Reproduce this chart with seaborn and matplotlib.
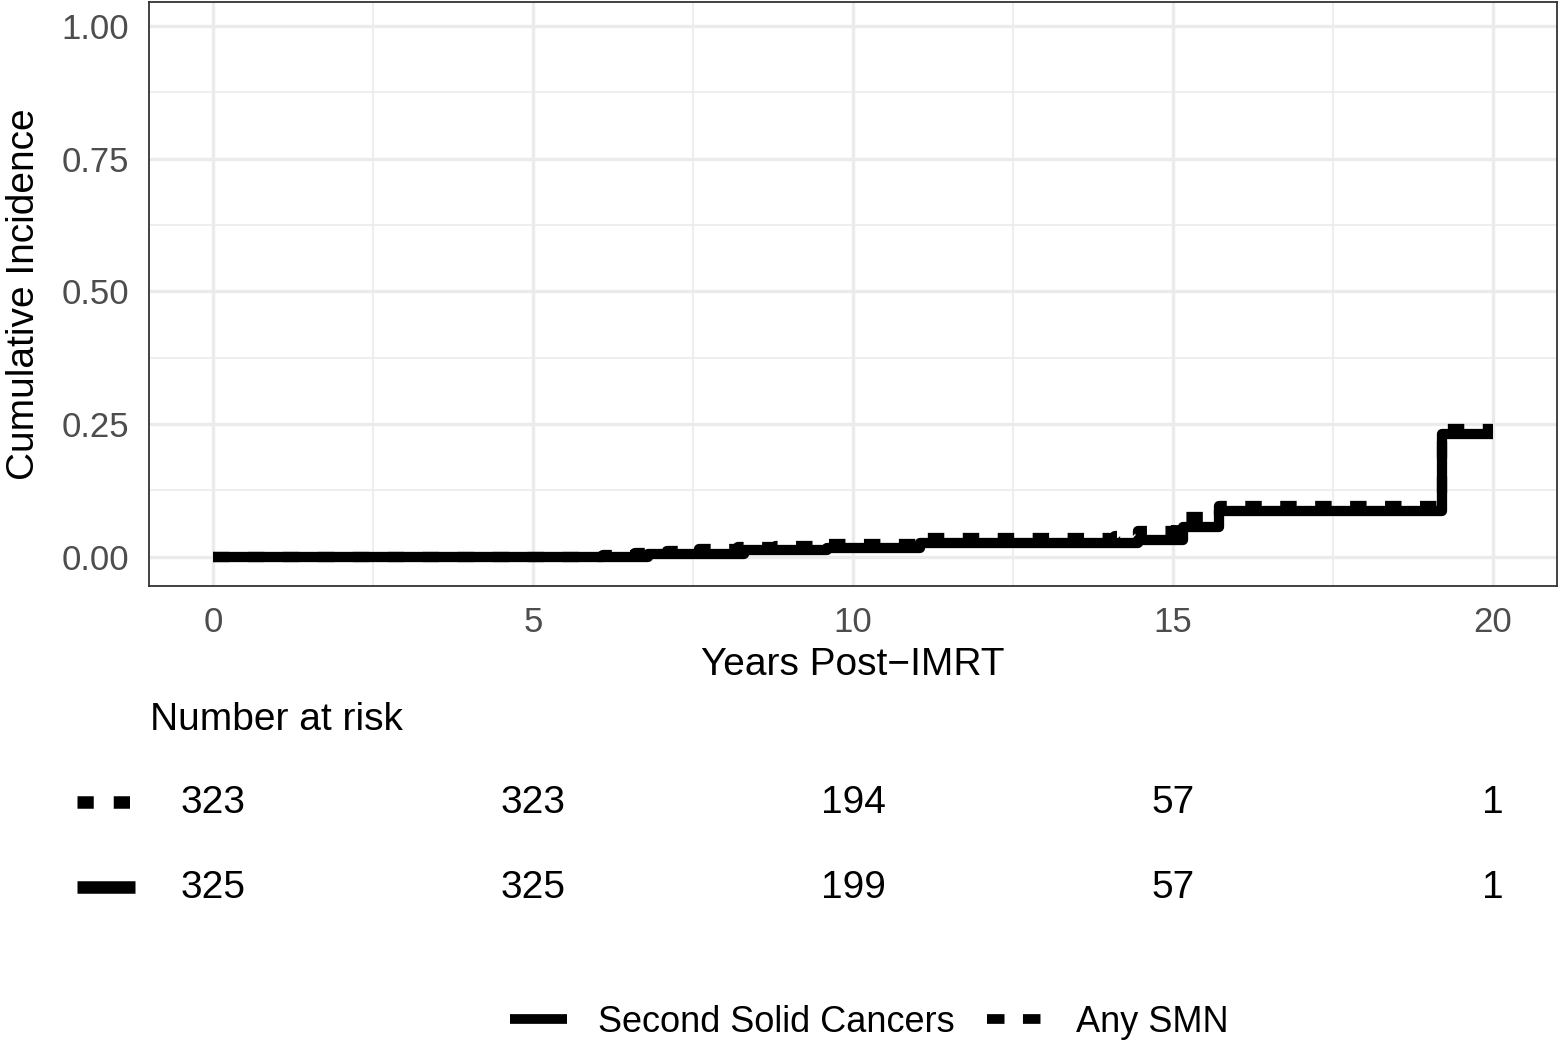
import seaborn as sns
import matplotlib.pyplot as plt
import pandas as pd
from matplotlib.lines import Line2D
from matplotlib.ticker import MultipleLocator, FormatStrFormatter
from matplotlib.transforms import blended_transform_factory

# curvas de incidência acumulada
ssc_anos = [0, 6.8, 8.3, 9.6, 11.05, 14.45, 15.15, 15.72, 19.2, 20.0]
ssc_inc = [0, 0.006, 0.012, 0.017, 0.026, 0.031, 0.056, 0.087, 0.232, 0.232]
smn_anos = [0, 6.1, 6.6, 7.1, 7.6, 8.2, 8.8, 9.5, 11.0, 14.1, 14.45, 15.05, 15.2, 15.72, 19.2, 20.0]
smn_inc = [0, 0.003, 0.007, 0.010, 0.014, 0.018, 0.021, 0.025, 0.036, 0.040, 0.048, 0.063, 0.075, 0.096, 0.241, 0.241]

# número em risco
risco_anos = [0, 5, 10, 15, 20]
risco_smn = [323, 323, 194, 57, 1]
risco_ssc = [325, 325, 199, 57, 1]

grupos = ["Second Solid Cancers", "Any SMN"]

dados = pd.concat([
    pd.DataFrame({"anos": ssc_anos, "inc": ssc_inc, "grupo": grupos[0]}),
    pd.DataFrame({"anos": smn_anos, "inc": smn_inc, "grupo": grupos[1]}),
], ignore_index=True)

sns.set_theme(style="white")
plt.rcParams['font.family'] = ['Liberation Sans', 'DejaVu Sans']
plt.rcParams['text.color'] = 'black'

LW = 7.4
TRACO = (1.6, 1.8)

fig = plt.figure(figsize=(15.59, 10.43), dpi=100)
W, H = 1559, 1043
ax = fig.add_axes([149 / W, 1 - 586 / H, (1557 - 149) / W, (586 - 2) / H])

sns.lineplot(data=dados, x="anos", y="inc", style="grupo", style_order=grupos,
             dashes={grupos[0]: "", grupos[1]: TRACO}, color="black",
             drawstyle="steps-post", estimator=None, errorbar=None,
             linewidth=LW, legend=False, ax=ax, sort=True)
for ln in ax.lines:
    ln.set_solid_capstyle("butt")
    ln.set_dash_capstyle("butt")

ax.set_xlim(-1, 21)
ax.set_ylim(-0.055, 1.045)
ax.xaxis.set_major_locator(MultipleLocator(5))
ax.xaxis.set_minor_locator(MultipleLocator(2.5))
ax.yaxis.set_major_locator(MultipleLocator(0.25))
ax.yaxis.set_minor_locator(MultipleLocator(0.125))
ax.yaxis.set_major_formatter(FormatStrFormatter("%.2f"))
ax.grid(True, which="major", color="#EBEBEB", linewidth=2.4)
ax.grid(True, which="minor", color="#EBEBEB", linewidth=1.2)
ax.set_axisbelow(True)
for s in ax.spines.values():
    s.set_color("#333333")
    s.set_linewidth(1.3)
ax.tick_params(which="major", length=8.5, width=2.2, color="#333333",
               labelsize=25, labelcolor="#4D4D4D", pad=6)
ax.tick_params(which="minor", length=0)
ax.set_xlabel("Years Post\u2212IMRT", fontsize=28, color="black", labelpad=6)
ax.set_ylabel("Cumulative Incidence", fontsize=28, color="black", labelpad=14)

# tabela de número em risco
tr = blended_transform_factory(ax.transData, fig.transFigure)
fig.text(150 / W, 1 - 720 / H, "Number at risk", fontsize=28, ha="left", va="center",
         color="black")
for yy, vals in [(803, risco_smn), (888, risco_ssc)]:
    for a, v in zip(risco_anos, vals):
        ax.text(a, 1 - yy / H, str(v), transform=tr, fontsize=28, color="black",
                ha="center", va="center", clip_on=False)
fig.add_artist(Line2D([77 / W, 134 / W], [1 - 802 / H] * 2, color="black",
                      linewidth=9, dashes=(1.3, 1.6), dash_capstyle="butt"))
fig.add_artist(Line2D([77 / W, 135 / W], [1 - 887 / H] * 2, color="black",
                      linewidth=9, solid_capstyle="butt"))

# legenda inferior
alcas = [Line2D([], [], color="black", linewidth=7, solid_capstyle="butt"),
         Line2D([], [], color="black", linewidth=7, dashes=(1.8, 1.9), dash_capstyle="butt")]
leg = fig.legend(alcas, grupos, loc="center", bbox_to_anchor=(869 / W, 1 - 1022 / H),
                 ncol=2, frameon=False, fontsize=26, handlelength=1.6,
                 handletextpad=0.85, columnspacing=0.9)
for t in leg.get_texts():
    t.set_color("black")

fig.savefig("out.png", dpi=100)
